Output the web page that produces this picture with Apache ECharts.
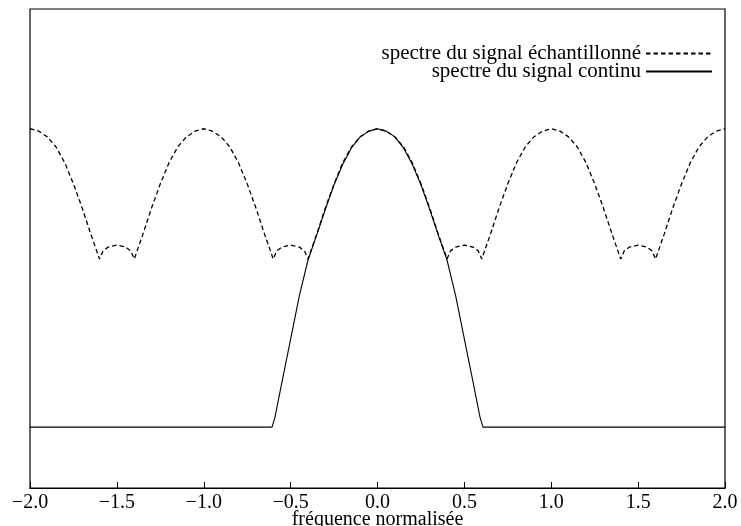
<!DOCTYPE html>
<html>
<head>
<meta charset="utf-8">
<script src="https://cdn.jsdelivr.net/npm/echarts@6/dist/echarts.min.js"></script>
<style>
  html, body { margin: 0; padding: 0; background: #fff; }
  #chart { width: 741px; height: 526px; }
</style>
</head>
<body>
<div id="chart"></div>
<script>
// fréquences
const sampledFreq = [
  -2, -1.95, -1.9, -1.85, -1.8, -1.75, -1.7, -1.65, -1.6, -1.58, -1.55, -1.5, -1.45, -1.42, -1.4, -1.35, -1.3, -1.25, -1.2, -1.15, -1.1, -1.05,
  -1, -0.95, -0.9, -0.85, -0.8, -0.75, -0.7, -0.65, -0.6, -0.58, -0.55, -0.5, -0.45, -0.42, -0.4, -0.35, -0.3, -0.25, -0.2, -0.15, -0.1, -0.05,
  0, 0.05, 0.1, 0.15, 0.2, 0.25, 0.3, 0.35, 0.4, 0.42, 0.45, 0.5, 0.55, 0.58, 0.6, 0.65, 0.7, 0.75, 0.8, 0.85, 0.9, 0.95,
  1, 1.05, 1.1, 1.15, 1.2, 1.25, 1.3, 1.35, 1.4, 1.42, 1.45, 1.5, 1.55, 1.58, 1.6, 1.65, 1.7, 1.75, 1.8, 1.85, 1.9, 1.95,
  2
]
const sampledSpectrum = [
  75.0, 74.5, 73.3, 71.2, 67.9, 63.5, 58.5, 53.0, 47.8, 49.5, 50.3, 50.7, 50.3, 49.5, 47.8, 53.0, 58.5, 63.5, 67.9, 71.2, 73.3, 74.5,
  75.0, 74.5, 73.3, 71.2, 67.9, 63.5, 58.5, 53.0, 47.8, 49.5, 50.3, 50.7, 50.3, 49.5, 47.8, 53.0, 58.5, 63.5, 67.9, 71.2, 73.3, 74.5,
  75.0, 74.5, 73.3, 71.2, 67.9, 63.5, 58.5, 53.0, 47.8, 49.5, 50.3, 50.7, 50.3, 49.5, 47.8, 53.0, 58.5, 63.5, 67.9, 71.2, 73.3, 74.5,
  75.0, 74.5, 73.3, 71.2, 67.9, 63.5, 58.5, 53.0, 47.8, 49.5, 50.3, 50.7, 50.3, 49.5, 47.8, 53.0, 58.5, 63.5, 67.9, 71.2, 73.3, 74.5,
  75.0
]
const continuousFreq = [
  -2, -0.607, -0.59, -0.55, -0.5, -0.45, -0.4, -0.35, -0.3, -0.25, -0.2, -0.15, -0.1, -0.05,
  0, 0.05, 0.1, 0.15, 0.2, 0.25, 0.3, 0.35, 0.4, 0.45, 0.5, 0.55, 0.59, 0.607, 2
]
const continuousSpectrum = [
  12.7, 12.7, 14.8, 22.1, 31.1, 40.1, 47.6, 52.8, 58.2, 63.3, 67.6, 71.0, 73.3, 74.5,
  75.0, 74.5, 73.3, 71.0, 67.6, 63.3, 58.2, 52.8, 47.6, 40.1, 31.1, 22.1, 14.8, 12.7, 12.7
]
const xTicks = [-2, -1.5, -1, -0.5, 0, 0.5, 1, 1.5, 2]
const seriesNames = ['spectre du signal échantillonné', 'spectre du signal continu']

const FONT = 'Liberation Serif'
const zip = (xs, ys) => xs.map((x, i) => [x, ys[i]])

const legendBox = (name, top) => ({
  data: [name], right: 28, top: top, align: 'right', padding: 0,
  itemWidth: 66, itemHeight: 10, itemGap: 0,
  itemStyle: { opacity: 0 },
  textStyle: { fontFamily: FONT, fontSize: 21, color: '#000' }
})

const chart = echarts.init(document.getElementById('chart'))
const option = {
  animation: false,
  textStyle: { fontFamily: FONT, color: '#000' },
  grid: {
    left: 30, right: 16, top: 9, bottom: 38,
    outerBoundsMode: 'none', containLabel: false,
    show: true, borderColor: '#000', borderWidth: 1.2, backgroundColor: 'transparent'
  },
  legend: [legendBox(seriesNames[0], 43), legendBox(seriesNames[1], 61)],
  xAxis: {
    type: 'value', min: -2, max: 2, interval: 0.5,
    name: 'fréquence normalisée', nameLocation: 'middle', nameGap: 22,
    nameMoveOverlap: false,
    nameTextStyle: { fontFamily: FONT, fontSize: 20, color: '#000' },
    axisLine: { lineStyle: { color: '#000', width: 1.2 } },
    axisTick: { inside: true, length: 6, lineStyle: { color: '#000' } },
    axisLabel: {
      margin: 5, fontFamily: FONT, fontSize: 20, color: '#000',
      formatter: v => xTicks.includes(v) ? v.toFixed(1).replace('-', '\u2212') : ''
    },
    splitLine: { show: false }
  },
  yAxis: { type: 'value', min: 0, max: 100, show: false },
  series: [
    {
      name: seriesNames[0], type: 'line', showSymbol: false, symbol: 'none',
      data: zip(sampledFreq, sampledSpectrum),
      lineStyle: { color: '#000', width: 1.3, type: [4.5, 3] },
      itemStyle: { color: '#000' }
    },
    {
      name: seriesNames[1], type: 'line', showSymbol: false, symbol: 'none',
      data: zip(continuousFreq, continuousSpectrum),
      lineStyle: { color: '#000', width: 1.1 },
      itemStyle: { color: '#000' }
    }
  ]
}
chart.setOption(option)
</script>
</body>
</html>
